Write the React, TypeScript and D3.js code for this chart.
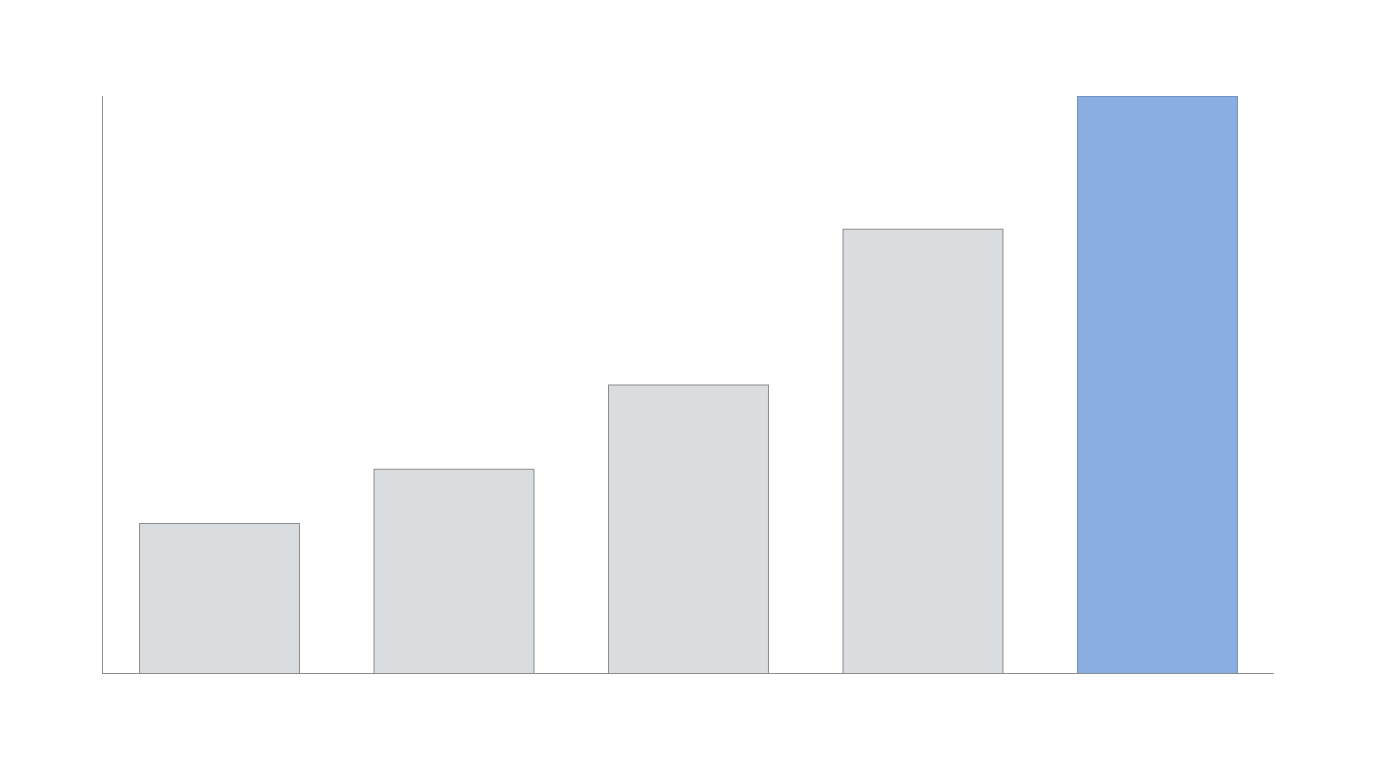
import { useEffect, useRef } from 'react'
import * as d3 from 'd3'

const categories = ['A', 'B', 'C', 'D', 'E']
const values = [26, 35.4, 50, 77, 100]
const highlighted = ['E']

const width = 1376
const height = 768
const margin = { top: 96, right: 102, bottom: 95, left: 102 }

export default function App() {
  const svgRef = useRef<SVGSVGElement>(null)

  useEffect(() => {
    if (!svgRef.current) return
    const svg = d3.select(svgRef.current)
    svg.selectAll('*').remove()

    const x = d3.scaleBand<string>()
      .domain(categories)
      .range([margin.left, width - margin.right])
      .paddingInner(0.318)
      .paddingOuter(0.158)

    const y = d3.scaleLinear()
      .domain([0, 100])
      .range([height - margin.bottom, margin.top])

    const data = categories.map((c, i) => ({ category: c, value: values[i] }))

    // Bars
    svg.append('g')
      .selectAll('rect')
      .data(data)
      .enter()
      .append('rect')
      .attr('x', d => x(d.category)! + 0.5)
      .attr('y', d => y(d.value) + 0.5)
      .attr('width', x.bandwidth())
      .attr('height', d => y(0) - y(d.value))
      .attr('fill', d => highlighted.includes(d.category) ? '#8aaedf' : '#d9dddf')
      .attr('stroke', d => highlighted.includes(d.category) ? '#6e93c4' : '#8c8c8c')
      .attr('stroke-width', 1)

    // Axes as plain lines (no ticks)
    svg.append('line')
      .attr('x1', margin.left + 0.5)
      .attr('x2', margin.left + 0.5)
      .attr('y1', y(100))
      .attr('y2', y(0) + 0.5)
      .attr('stroke', '#8c8c8c')
    svg.append('line')
      .attr('x1', margin.left)
      .attr('x2', width - margin.right)
      .attr('y1', y(0) + 0.5)
      .attr('y2', y(0) + 0.5)
      .attr('stroke', '#8c8c8c')
  }, [])

  return (
    <div style={{ position: 'absolute', left: 0, top: 0, background: '#fff' }}>
      <svg ref={svgRef} width={width} height={height} style={{ display: 'block' }} />
    </div>
  )
}
